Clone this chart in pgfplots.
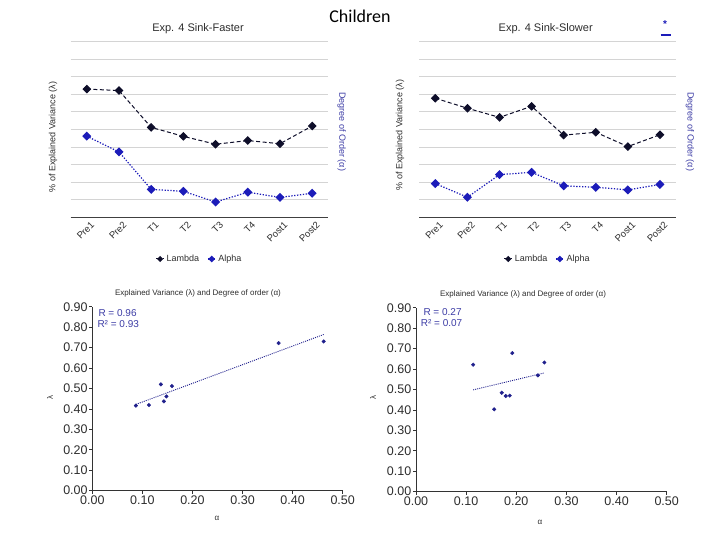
\documentclass[border=0pt]{standalone}
\usepackage{pgfplots}
\pgfplotsset{compat=1.18}
\usepackage{pgfplotstable}
\usepackage{fontspec}
\setmainfont{Liberation Sans}
\newfontfamily\calibri{Carlito}

\definecolor{lamcol}{RGB}{14,14,42}
\definecolor{alpcol}{RGB}{28,28,185}
\definecolor{ptcol}{RGB}{32,32,140}
\definecolor{labblue}{RGB}{60,60,165}
\definecolor{gridgray}{RGB}{212,212,212}
\definecolor{txtgray}{RGB}{45,45,45}

% session means: lambda = explained variance, alpha = degree of order
\pgfplotstableread{
idx lambda alpha
0 0.730 0.462
1 0.722 0.372
2 0.512 0.159
3 0.461 0.148
4 0.416 0.087
5 0.437 0.143
6 0.419 0.113
7 0.520 0.137
}\faster

\pgfplotstableread{
idx lambda alpha
0 0.678 0.192
1 0.621 0.114
2 0.569 0.243
3 0.632 0.256
4 0.468 0.179
5 0.484 0.171
6 0.403 0.156
7 0.470 0.187
}\slower

\pgfplotsset{
  linechart/.style={
    scale only axis, anchor=south west,
    height=175.6pt,
    xmin=-0.5, xmax=7.5, ymin=0, ymax=1,
    ytick={0,0.1,0.2,0.3,0.4,0.5,0.6,0.7,0.8,0.9,1.0},
    yticklabels={},
    ymajorgrids, grid style={gridgray, line width=1pt},
    axis x line*=bottom, axis y line*=left,
    y axis line style={draw=none},
    x axis line style={black!75, line width=1pt, -},
    tick style={draw=none},
    xtick={0,...,7},
    xticklabels={Pre1,Pre2,T1,T2,T3,T4,Post1,Post2},
    xticklabel style={rotate=45, anchor=north east, txtgray,
      font=\fontsize{9.5}{10}\selectfont, inner sep=1pt, yshift=-4pt, xshift=1pt},
    legend columns=2,
    legend style={at={(0.5,-0.2375)}, anchor=center, draw=none, fill=none,
      font=\fontsize{9}{10}\selectfont, text=txtgray,
      /tikz/every even column/.append style={column sep=6pt}},
    legend image code/.code={%
      \draw[mark repeat=2, mark phase=2, #1, mark size=1.7pt]
        plot coordinates {(0pt,0pt) (4pt,0pt) (8pt,0pt)};},
    clip=false,
  },
  lamline/.style={lamcol, line width=1pt, dash pattern=on 4pt off 2.5pt,
    mark=square*, mark size=2.6pt, mark options={solid, fill=lamcol, rotate=45}},
  alpline/.style={alpcol, line width=1.2pt, dash pattern=on 1.3pt off 1.6pt,
    mark=square*, mark size=2.6pt, mark options={solid, fill=alpcol, rotate=45}},
  scatter/.style={
    scale only axis, anchor=south west,
    height=184pt,
    xmin=0, xmax=0.5, ymin=0, ymax=0.9,
    xtick={0,0.1,0.2,0.3,0.4,0.5},
    ytick={0,0.1,0.2,0.3,0.4,0.5,0.6,0.7,0.8,0.9},
    axis x line*=bottom, axis y line*=left,
    axis line style={black!80, line width=0.8pt, -},
    tick style={black!80, line width=0.8pt},
    tick align=outside, major tick length=3pt,
    ticklabel style={font=\fontsize{12.5}{13}\selectfont, txtgray},
    xticklabel style={inner sep=2pt},
    yticklabel style={inner sep=1.5pt},
    /pgf/number format/.cd, fixed, fixed zerofill, precision=2,
    assume math mode=true,
  },
  pts/.style={only marks, mark=*, mark size=1.8pt, ptcol},
  trend/.style={ptcol, line width=0.9pt, dash pattern=on 1pt off 1.1pt, no marks},
}

\begin{document}
\begin{tikzpicture}[x=1pt, y=1pt]
\useasboundingbox (0,0) rectangle (720,540);

% ---- top left line chart
\begin{axis}[linechart, at={(70.7pt,322.7pt)}, width=257.6pt]
  \addplot[lamline] table[x=idx, y=lambda]{\faster};
  \addlegendentry{Lambda}
  \addplot[alpline] table[x=idx, y=alpha]{\faster};
  \addlegendentry{Alpha}
\end{axis}

% ---- top right line chart
\begin{axis}[linechart, at={(419.3pt,322.7pt)}, width=256.7pt]
  \addplot[lamline] table[x=idx, y=lambda]{\slower};
  \addlegendentry{Lambda}
  \addplot[alpline] table[x=idx, y=alpha]{\slower};
  \addlegendentry{Alpha}
\end{axis}

% ---- bottom left scatter
\begin{axis}[scatter, at={(92.3pt,49.3pt)}, width=250.4pt]
  \addplot[trend] coordinates {(0.087,0.422) (0.462,0.764)};
  \addplot[pts] table[x=alpha, y=lambda]{\faster};
\end{axis}

% ---- bottom right scatter
\begin{axis}[scatter, at={(416pt,48.3pt)}, width=250.7pt]
  \addplot[trend] coordinates {(0.114,0.498) (0.256,0.581)};
  \addplot[pts] table[x=alpha, y=lambda]{\slower};
\end{axis}

% ---- text
\node[font=\calibri\fontsize{18}{20}\selectfont] at (360,524) {Children};
\node[font=\fontsize{11}{12}\selectfont, txtgray] at (198,511) {Exp. 4 Sink-Faster};
\node[font=\fontsize{11}{12}\selectfont, txtgray] at (545.7,511) {Exp. 4 Sink-Slower};
\node[font=\fontsize{10}{11}\selectfont\bfseries, alpcol] at (665,516) {*};
\draw[alpcol, line width=1.8pt] (660.5,505) -- (670.8,505);

\node[rotate=90, font=\fontsize{9}{10}\selectfont, txtgray] at (53,403) {\% of Explained Variance (λ)};
\node[rotate=-90, font=\fontsize{9}{10}\selectfont, labblue] at (341.7,408.3) {Degree of Order (α)};
\node[rotate=90, font=\fontsize{9}{10}\selectfont, txtgray] at (400,405) {\% of Explained Variance (λ)};
\node[rotate=-90, font=\fontsize{9}{10}\selectfont, labblue] at (690,408.3) {Degree of Order (α)};

\node[font=\fontsize{8}{9}\selectfont, txtgray] at (198,247) {Explained Variance (λ) and Degree of order (α)};
\node[font=\fontsize{8}{9}\selectfont, txtgray] at (523,246) {Explained Variance (λ) and Degree of order (α)};
\node[rotate=90, font=\fontsize{8}{9}\selectfont, txtgray] at (50,142) {λ};
\node[rotate=90, font=\fontsize{8}{9}\selectfont, txtgray] at (373,142) {λ};
\node[font=\fontsize{8}{9}\selectfont, txtgray] at (217,21.7) {α};
\node[font=\fontsize{8}{9}\selectfont, txtgray] at (540,17.3) {α};

\node[anchor=west, font=\fontsize{10}{11}\selectfont, labblue, inner sep=0pt] at (98.3,227) {R = 0.96};
\node[anchor=west, font=\fontsize{10}{11}\selectfont, labblue, inner sep=0pt] at (97.3,216) {R² = 0.93};
\node[anchor=west, font=\fontsize{10}{11}\selectfont, labblue, inner sep=0pt] at (423.3,227.7) {R = 0.27};
\node[anchor=west, font=\fontsize{10}{11}\selectfont, labblue, inner sep=0pt] at (420.7,216.7) {R² = 0.07};
\end{tikzpicture}
\end{document}
